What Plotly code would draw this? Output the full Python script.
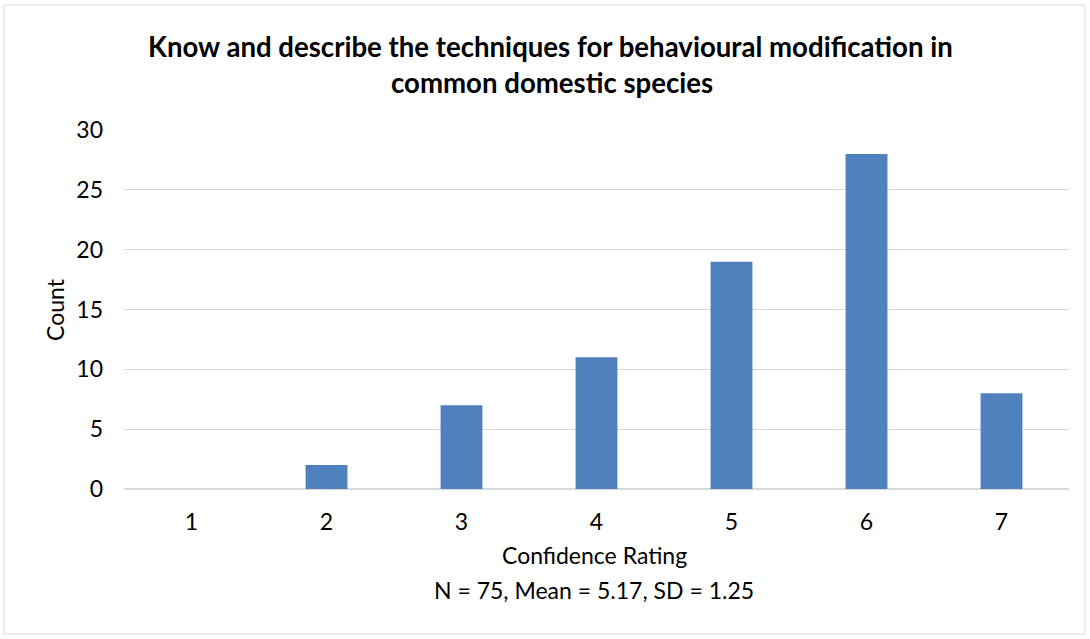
import plotly.graph_objects as go

categories = ["1", "2", "3", "4", "5", "6", "7"]
counts = [0, 2, 7, 11, 19, 28, 8]
y_ticks = [0, 5, 10, 15, 20, 25, 30]

title_lines = ["Know and describe the techniques for behavioural modification in",
               "common domestic species"]
x_title_lines = ["Confidence Rating", "N = 75, Mean = 5.17, SD = 1.25"]
y_title = "Count"

FONT = "Lato, 'Open Sans', sans-serif"

L, R, T, B = 124, 21, 130, 150
W, H = 1090, 639
PW, PH = W - L - R, H - T - B


def px(x):
    return (x - L) / PW


def py(y):
    return (H - B - y) / PH


fig = go.Figure()
fig.add_trace(go.Bar(
    x=categories, y=counts,
    marker=dict(color="#4f81bd", line=dict(width=0)),
))

annotations = [
    dict(text="<b>" + title_lines[0] + "</b>", x=px(550), y=py(46),
         font=dict(size=27.6)),
    dict(text="<b>" + title_lines[1] + "</b>", x=px(552), y=py(82),
         font=dict(size=27.6)),
    dict(text=x_title_lines[0], x=px(594), y=py(555), font=dict(size=23)),
    dict(text=x_title_lines[1], x=px(594), y=py(590), font=dict(size=23)),
    dict(text=y_title, x=px(55), y=py(310), textangle=-90, font=dict(size=23)),
]
for a in annotations:
    a.update(xref="paper", yref="paper", showarrow=False,
             xanchor="center", yanchor="middle")

fig.update_layout(
    width=W, height=H,
    paper_bgcolor="white", plot_bgcolor="white",
    margin=dict(l=L, r=R, t=T, b=B),
    bargap=0.69,
    showlegend=False,
    font=dict(family=FONT, size=23, color="#000000"),
    annotations=annotations,
    xaxis=dict(
        type="category", showgrid=False, showline=False, zeroline=False,
        ticks="", tickfont=dict(size=23), ticklabelstandoff=17,
    ),
    yaxis=dict(
        range=[0, 30], tickvals=y_ticks, showgrid=True, gridcolor="#d9d9d9",
        gridwidth=1, zeroline=True, zerolinecolor="#d9d9d9", showline=False,
        ticks="", tickfont=dict(size=23), ticklabelstandoff=20,
    ),
    shapes=[dict(type="rect", xref="paper", yref="paper",
                 x0=px(4), x1=px(1085), y0=py(634), y1=py(5),
                 line=dict(color="#d9d9d9", width=1), fillcolor="rgba(0,0,0,0)",
                 layer="below")],
)

fig.write_html("out.html", config={"displayModeBar": False},
               post_script="document.body.style.margin='0';")
